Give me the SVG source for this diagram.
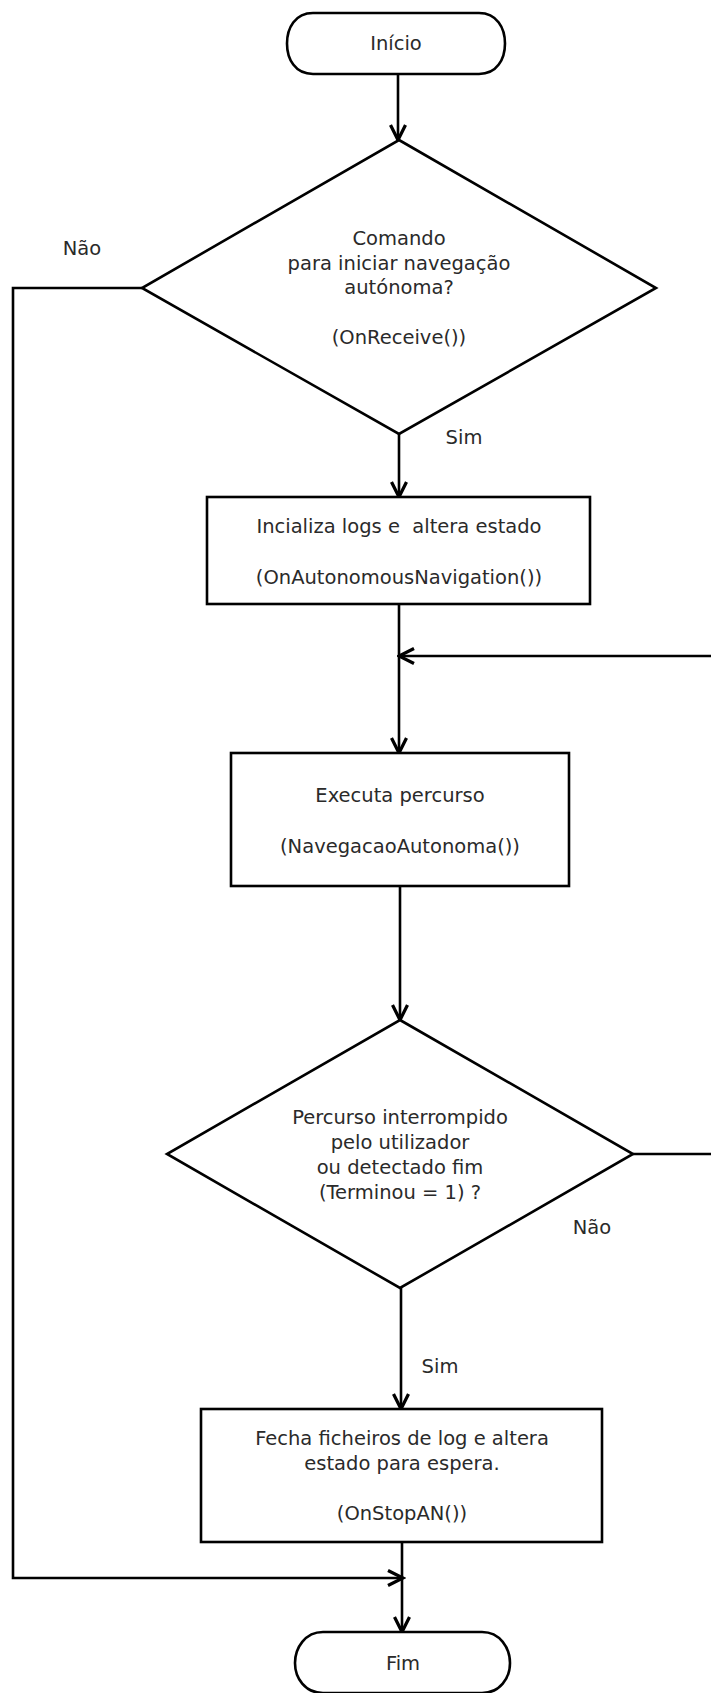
<svg xmlns="http://www.w3.org/2000/svg" width="711" height="1693" viewBox="0 0 711 1693">
<style>
.shape{fill:#ffffff;stroke:#000000;stroke-width:2.6;stroke-linejoin:miter}
.conn{fill:none;stroke:#000000;stroke-width:2.6}
.t{font-family:"DejaVu Sans",Verdana,sans-serif;font-size:19.5px;fill:#2a2a2a;text-anchor:middle;white-space:pre}
</style>
<defs>
<marker id="arr" markerUnits="userSpaceOnUse" markerWidth="20" markerHeight="20" viewBox="-14 -8 16 16" refX="0" refY="0" orient="auto">
<path d="M-12,-6 L0,0 L-12,6" fill="none" stroke="#000000" stroke-width="2.6"/>
</marker>
</defs>
<rect width="711" height="1693" fill="#ffffff"/>
<g id="connectors">
<path class="conn" d="M398,74 V140" marker-end="url(#arr)"/>
<path class="conn" d="M142,288 H13 V1578 H403" marker-end="url(#arr)"/>
<path class="conn" d="M399,434 V497" marker-end="url(#arr)"/>
<path class="conn" d="M399,604 V753" marker-end="url(#arr)"/>
<path class="conn" d="M633,1154 H714 V656 H399" marker-end="url(#arr)"/>
<path class="conn" d="M400,886 V1020" marker-end="url(#arr)"/>
<path class="conn" d="M401,1288 V1409" marker-end="url(#arr)"/>
<path class="conn" d="M402,1542 V1632" marker-end="url(#arr)"/>
</g>
<g id="labels">
<text class="t" x="82" y="254.5">Não</text>
<text class="t" x="464" y="443.5">Sim</text>
<text class="t" x="592" y="1233.5">Não</text>
<text class="t" x="440" y="1372.5">Sim</text>
</g>
<g id="inicio">
<path class="shape" d="M313,13 H479 C497,13 505,28 505,43.5 C505,59 497,74 479,74 H313 C295,74 287,59 287,43.5 C287,28 295,13 313,13 Z"/>
<text class="t" x="396" y="50">Início</text>
</g>
<g id="decisao1">
<polygon class="shape" points="399,140 656,288 399,434 142,288"/>
<text class="t" x="399" y="244.5">Comando</text>
<text class="t" x="399" y="269.5">para iniciar navegação</text>
<text class="t" x="399" y="293.5">autónoma?</text>
<text class="t" x="399" y="343.5">(OnReceive())</text>
</g>
<g id="inicializa">
<rect class="shape" x="207" y="497" width="383" height="107"/>
<text class="t" x="399" y="532.5">Incializa logs e  altera estado</text>
<text class="t" x="399" y="583.5">(OnAutonomousNavigation())</text>
</g>
<g id="executa">
<rect class="shape" x="231" y="753" width="338" height="133"/>
<text class="t" x="400" y="801.5">Executa percurso</text>
<text class="t" x="400" y="852.5">(NavegacaoAutonoma())</text>
</g>
<g id="decisao2">
<polygon class="shape" points="400,1020 633,1154 400,1288 167,1154"/>
<text class="t" x="400" y="1123.5">Percurso interrompido</text>
<text class="t" x="400" y="1148.5">pelo utilizador</text>
<text class="t" x="400" y="1173.5">ou detectado fim</text>
<text class="t" x="400" y="1198.5">(Terminou = 1) ?</text>
</g>
<g id="fecha">
<rect class="shape" x="201" y="1409" width="401" height="133"/>
<text class="t" x="402" y="1444.5">Fecha ficheiros de log e altera</text>
<text class="t" x="402" y="1469.5">estado para espera.</text>
<text class="t" x="402" y="1519.5">(OnStopAN())</text>
</g>
<g id="fim">
<path class="shape" d="M323,1632 H482 C500,1632 510,1648 510,1663 C510,1678 500,1693 482,1693 H323 C305,1693 295,1678 295,1663 C295,1648 305,1632 323,1632 Z"/>
<text class="t" x="403" y="1669.5">Fim</text>
</g>
</svg>
